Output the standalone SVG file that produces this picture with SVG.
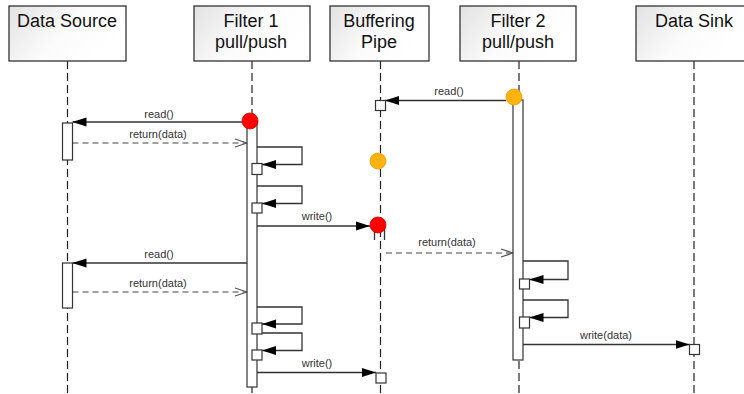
<svg xmlns="http://www.w3.org/2000/svg" width="744" height="394" viewBox="0 0 744 394">
<style>
.hdr{stroke:#333;stroke-width:1.3;fill:url(#g)}
.ht{font-family:"Liberation Sans",Arial,sans-serif;font-size:18px;fill:#111;text-anchor:middle}
.life{stroke:#222;stroke-width:1.2;stroke-dasharray:8 4;fill:none}
.act{fill:#fff;stroke:#333;stroke-width:1.2}
.msg{stroke:#333;stroke-width:1.3;fill:none}
.ret{stroke:#444;stroke-width:1.2;stroke-dasharray:6 4;fill:none}
.lbl{font-family:"Liberation Sans",Arial,sans-serif;font-size:11px;fill:#333;text-anchor:middle}
.red{fill:#ff0000;stroke:#e00000;stroke-width:0.8}
.org{fill:#ffb310;stroke:#e8a000;stroke-width:0.8}
</style>
<defs>
<linearGradient id="g" x1="0" y1="0" x2="1" y2="0.4">
<stop offset="0" stop-color="#e2e2e2"/>
<stop offset="0.55" stop-color="#fbfbfb"/>
<stop offset="1" stop-color="#ffffff"/>
</linearGradient>
<marker id="fa" markerUnits="userSpaceOnUse" markerWidth="14" markerHeight="10" refX="14" refY="5" orient="auto">
<path d="M0,0.5 L14,5 L0,9.5 z" fill="#000"/>
</marker>
<marker id="oa" markerUnits="userSpaceOnUse" markerWidth="14" markerHeight="10" refX="13" refY="5" orient="auto">
<path d="M1,1 L13,5 L1,9" fill="none" stroke="#555" stroke-width="1.2"/>
</marker>
</defs>
<rect width="744" height="394" fill="#fff"/>

<g id="connectors">
<line class="msg" x1="242" y1="122" x2="72.5" y2="122" marker-end="url(#fa)"/>
<text class="lbl" x="159" y="118">read()</text>
<line class="ret" x1="72.5" y1="143" x2="247" y2="143" marker-end="url(#oa)"/>
<text class="lbl" x="158" y="138">return(data)</text>
<path class="msg" d="M257,147 H302 V164.5 H262" marker-end="url(#fa)"/>
<path class="msg" d="M257,186 H302 V203.5 H262" marker-end="url(#fa)"/>
<line class="msg" x1="257" y1="226" x2="370" y2="226" marker-end="url(#fa)"/>
<text class="lbl" x="317" y="220">write()</text>
<line class="msg" x1="506" y1="100.5" x2="385" y2="100.5" marker-end="url(#fa)"/>
<text class="lbl" x="449" y="95">read()</text>
<line class="ret" x1="386" y1="253" x2="513" y2="253" marker-end="url(#oa)"/>
<text class="lbl" x="447" y="246">return(data)</text>
<line class="msg" x1="247" y1="263" x2="72.5" y2="263" marker-end="url(#fa)"/>
<text class="lbl" x="159" y="258">read()</text>
<line class="ret" x1="72.5" y1="292" x2="247" y2="292" marker-end="url(#oa)"/>
<text class="lbl" x="158" y="287">return(data)</text>
<path class="msg" d="M257,307 H302 V324 H262" marker-end="url(#fa)"/>
<path class="msg" d="M257,333 H302 V350.5 H262" marker-end="url(#fa)"/>
<line class="msg" x1="257" y1="372.5" x2="376" y2="372.5" marker-end="url(#fa)"/>
<text class="lbl" x="317" y="367">write()</text>
<path class="msg" d="M523,261 H568 V279.5 H529.5" marker-end="url(#fa)"/>
<path class="msg" d="M523,300 H568 V317.5 H529.5" marker-end="url(#fa)"/>
<line class="msg" x1="523" y1="344.5" x2="689.5" y2="344.5" marker-end="url(#fa)"/>
<text class="lbl" x="606" y="339">write(data)</text>
</g>

<g id="data-source">
<line class="life" x1="67.5" y1="61" x2="67.5" y2="394"/>
<rect class="hdr" x="9" y="6" width="117" height="55"/>
<text class="ht" x="67" y="27">Data Source</text>
<rect class="act" x="62.5" y="123" width="10" height="37"/>
<rect class="act" x="62.5" y="263" width="10" height="45"/>
</g>

<g id="filter-1">
<line class="life" x1="252" y1="61" x2="252" y2="394"/>
<rect class="hdr" x="194" y="6" width="116" height="55"/>
<text class="ht" x="251" y="27">Filter 1</text>
<text class="ht" x="251" y="48">pull/push</text>
<rect class="act" x="247" y="122" width="10" height="265"/>
<rect class="act" x="252" y="163.5" width="10" height="11"/>
<rect class="act" x="252" y="203" width="10" height="10"/>
<rect class="act" x="252" y="323" width="10" height="11"/>
<rect class="act" x="252" y="350" width="10" height="10"/>
<circle class="red" cx="250" cy="121" r="8"/>
</g>

<g id="buffering-pipe">
<line class="life" x1="380.5" y1="61" x2="380.5" y2="394"/>
<rect class="hdr" x="330" y="6" width="99" height="55"/>
<text class="ht" x="379" y="27">Buffering</text>
<text class="ht" x="379" y="48">Pipe</text>
<rect class="act" x="375.5" y="100.5" width="10" height="10"/>
<line class="msg" x1="374.5" y1="226" x2="374.5" y2="240"/>
<line class="msg" x1="384.5" y1="226" x2="384.5" y2="240"/>
<rect class="act" x="376" y="373" width="10" height="10"/>
<circle class="org" cx="378" cy="161" r="8"/>
<circle class="red" cx="378" cy="225" r="8"/>
</g>

<g id="filter-2">
<line class="life" x1="519" y1="61" x2="519" y2="394"/>
<rect class="hdr" x="460" y="6" width="116" height="55"/>
<text class="ht" x="518" y="27">Filter 2</text>
<text class="ht" x="518" y="48">pull/push</text>
<rect class="act" x="513" y="100" width="10" height="260"/>
<rect class="act" x="519.5" y="279" width="10" height="10"/>
<rect class="act" x="519.5" y="317" width="10" height="11"/>
<circle class="org" cx="514" cy="97" r="8"/>
</g>

<g id="data-sink">
<line class="life" x1="694" y1="61" x2="694" y2="394"/>
<rect class="hdr" x="636" y="6" width="112" height="55"/>
<text class="ht" x="694" y="27">Data Sink</text>
<rect class="act" x="689.5" y="344.5" width="10" height="10"/>
</g>
</svg>
